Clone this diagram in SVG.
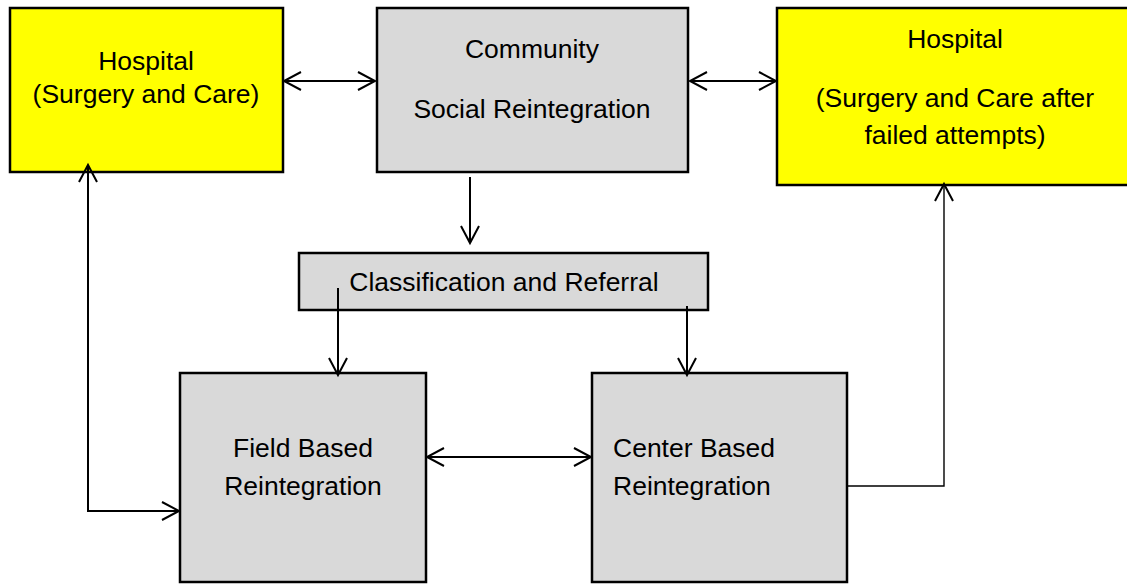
<svg xmlns="http://www.w3.org/2000/svg" width="1127" height="585" viewBox="0 0 1127 585">
<style>
.box{stroke:#000;stroke-width:2.5}
.y{fill:#FFFF00}
.g{fill:#D9D9D9}
text{font-family:"Liberation Sans",Arial,sans-serif;font-size:26.5px;fill:#000}
.c{text-anchor:middle}
.ln{fill:none;stroke:#000;stroke-width:2}
.thin{fill:none;stroke:#000;stroke-width:1.4}
</style>
<defs>
<marker id="ah" markerUnits="userSpaceOnUse" markerWidth="24" markerHeight="24" viewBox="-20 -12 24 24" refX="0" refY="0" orient="auto-start-reverse">
<path d="M-17,-9 L0,0 L-17,9" fill="none" stroke="#000" stroke-width="2"/>
</marker>
</defs>
<g id="hospital-left">
<rect class="box y" x="10" y="8" width="273" height="164"/>
<text class="c" x="146" y="70">Hospital</text>
<text class="c" x="146" y="103">(Surgery and Care)</text>
</g>
<g id="community">
<rect class="box g" x="377" y="8" width="311" height="164"/>
<text class="c" x="532" y="58">Community</text>
<text class="c" x="532" y="118">Social Reintegration</text>
</g>
<g id="hospital-right">
<rect class="box y" x="777" y="8" width="356" height="177"/>
<text class="c" x="955" y="48">Hospital</text>
<text class="c" x="955" y="107">(Surgery and Care after</text>
<text class="c" x="955" y="144">failed attempts)</text>
</g>
<g id="classification">
<rect class="box g" x="299" y="253" width="409" height="57"/>
<text class="c" x="504" y="291">Classification and Referral</text>
</g>
<g id="field">
<rect class="box g" x="180" y="373" width="246" height="209"/>
<text class="c" x="303" y="457">Field Based</text>
<text class="c" x="303" y="495">Reintegration</text>
</g>
<g id="center">
<rect class="box g" x="592" y="373" width="255" height="209"/>
<text x="613" y="457">Center Based</text>
<text x="613" y="495">Reintegration</text>
</g>
<g id="connectors">
<line class="ln" x1="284" y1="81" x2="375" y2="81" marker-start="url(#ah)" marker-end="url(#ah)"/>
<line class="ln" x1="690" y1="81" x2="776" y2="81" marker-start="url(#ah)" marker-end="url(#ah)"/>
<line class="ln" x1="470" y1="177" x2="470" y2="243" marker-end="url(#ah)"/>
<line class="ln" x1="338" y1="288" x2="338" y2="375" marker-end="url(#ah)"/>
<line class="ln" x1="687" y1="306" x2="687" y2="375" marker-end="url(#ah)"/>
<line class="ln" x1="427" y1="457" x2="591" y2="457" marker-start="url(#ah)" marker-end="url(#ah)"/>
<polyline class="ln" points="88,165 88,511 179,511" marker-start="url(#ah)" marker-end="url(#ah)"/>
<polyline class="thin" points="848,486 944,486 944,184" marker-end="url(#ah)"/>
</g>
</svg>
